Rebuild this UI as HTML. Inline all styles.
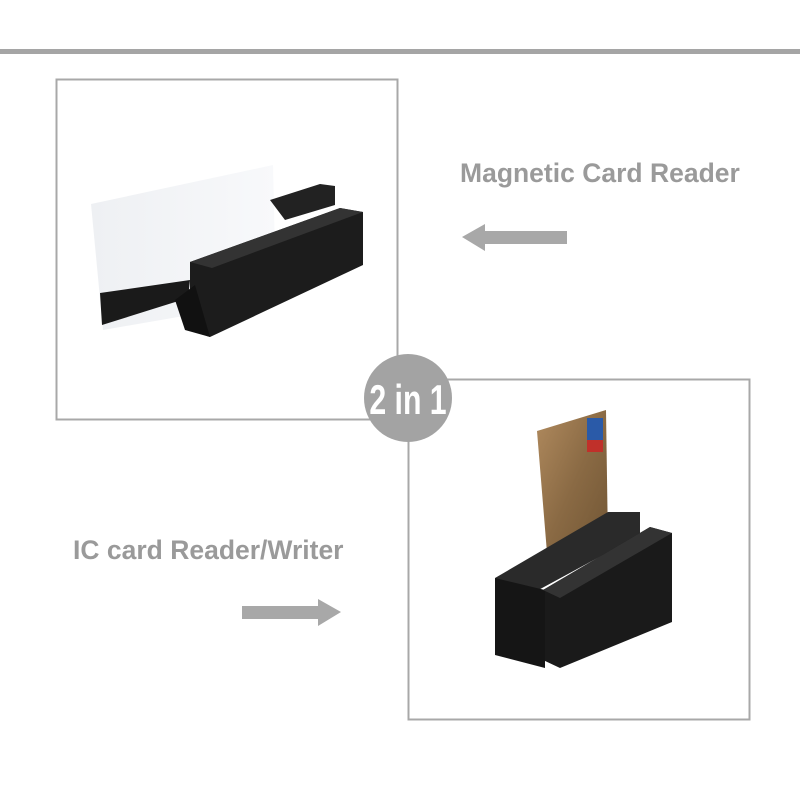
<!DOCTYPE html>
<html><head><style>
html,body{margin:0;padding:0;background:#fff;}
body{width:800px;height:800px;position:relative;overflow:hidden;font-family:"Liberation Sans",sans-serif;}
</style></head><body>
<svg width="800" height="800" viewBox="0 0 800 800" xmlns="http://www.w3.org/2000/svg" style="position:absolute;left:0;top:0">
<defs>
<linearGradient id="gold" x1="0" y1="0" x2="1" y2="1">
<stop offset="0" stop-color="#b08a5e"/><stop offset="0.5" stop-color="#8a6a44"/><stop offset="1" stop-color="#6f5433"/>
</linearGradient>
<linearGradient id="card" x1="0" y1="0" x2="1" y2="0">
<stop offset="0" stop-color="#eef0f3"/><stop offset="1" stop-color="#f8f9fb"/>
</linearGradient>
</defs>
<rect x="0" y="49" width="800" height="5" fill="#a5a5a5"/>
<rect x="56.5" y="79.5" width="341" height="340" fill="#fff" stroke="#a8a8a8" stroke-width="2"/>
<polygon points="91,204 273,165 276,300 103,330" fill="url(#card)"/>
<polygon points="100,293 190,280 188,298 102,325" fill="#1a1a1a"/>
<polygon points="270,200 320,184 335,186 335,205 285,220" fill="#222"/>
<polygon points="190,262 340,208 363,212 363,265 210,337 190,330" fill="#1c1c1c"/>
<polygon points="190,262 340,208 363,212 212,268" fill="#333"/>
<polygon points="175,300 195,285 210,337 185,330" fill="#111"/>
<rect x="408.5" y="379.5" width="341" height="340" fill="#fff" stroke="#a8a8a8" stroke-width="2"/>
<polygon points="537,431 606,410 608,545 548,565" fill="url(#gold)"/>
<rect x="587" y="418" width="16" height="34" fill="#2a5aa8"/>
<rect x="587" y="440" width="16" height="12" fill="#c0302a"/>
<polygon points="495,578 608,512 640,512 640,535 520,600" fill="#2a2a2a"/>
<polygon points="543,590 650,527 672,533 672,622 560,668 543,660" fill="#1a1a1a"/>
<polygon points="495,578 545,590 545,668 495,655" fill="#151515"/>
<polygon points="543,590 650,527 672,533 560,598" fill="#333"/>
<circle cx="408" cy="398" r="44" fill="#a3a3a3"/>
<text x="408" y="414" text-anchor="middle" font-family="Liberation Sans Narrow,Liberation Sans,sans-serif" font-weight="bold" font-size="42" fill="#fff" transform="translate(408 0) scale(0.72 1) translate(-408 0)">2 in 1</text>
<text x="460" y="182" font-weight="bold" font-size="26.5" fill="#9a9a9a">Magnetic Card Reader</text>
<text x="73" y="559" font-weight="bold" font-size="26.5" fill="#9a9a9a">IC card Reader/Writer</text>
<polygon points="462,237 485,224 485,231 567,231 567,244 485,244 485,251" fill="#a8a8a8"/>
<polygon points="341,612 318,599 318,606 242,606 242,619 318,619 318,626" fill="#a8a8a8"/>
</svg>
</body></html>
